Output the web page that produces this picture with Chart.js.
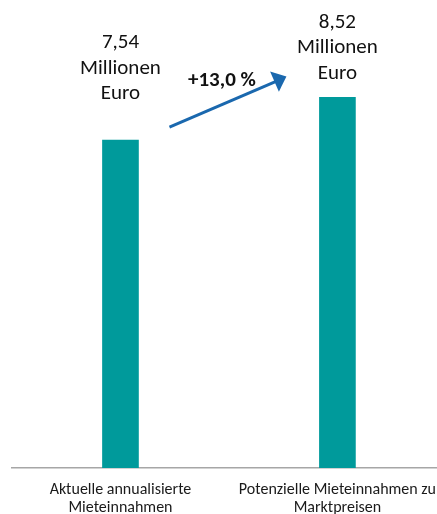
<!DOCTYPE html>
<html>
<head>
<meta charset="utf-8">
<script src="https://cdn.jsdelivr.net/npm/chart.js@4"></script>
<style>
    html, body { margin: 0; padding: 0; background: #fff; overflow: hidden; }
    #wrap { width: 449px; height: 514px; }
</style>
</head>
<body>
<div id="wrap"><canvas id="rentChart" width="449" height="514"></canvas></div>
<script>
// Chart data
const categories = [
    ['Aktuelle annualisierte', 'Mieteinnahmen'],
    ['Potenzielle Mieteinnahmen zu', 'Marktpreisen']
];
const rentValues = [7.54, 8.52];
const valueUnit = ['Millionen', 'Euro'];

const barColor = '#009a9b';
const arrowColor = '#1a68ae';
const fontFamily = 'Carlito, Lato, "Open Sans", sans-serif';

function formatDe(v, digits) {
    return v.toFixed(digits).replace('.', ',');
}

// Value labels above the bars plus the growth arrow
const annotationPlugin = {
    id: 'annotations',
    afterDatasetsDraw(chart) {
        const ctx = chart.ctx;
        const bars = chart.getDatasetMeta(0).data;
        const gaps = [46, 24];
        const lineStep = 25.5;

        ctx.save();
        ctx.fillStyle = '#111';
        ctx.textAlign = 'center';
        ctx.textBaseline = 'middle';
        ctx.font = '21px ' + fontFamily;
        bars.forEach((bar, i) => {
            const lines = [formatDe(rentValues[i], 2)].concat(valueUnit);
            const lastY = bar.y - gaps[i];
            lines.forEach((line, j) => {
                ctx.fillText(line, bar.x, lastY - (lines.length - 1 - j) * lineStep);
            });
        });

        // Arrow from first to second bar
        const x0 = bars[0].x + 49, y0 = bars[0].y - 13;
        const x1 = bars[1].x - 51, y1 = bars[1].y - 21;
        const ang = Math.atan2(y1 - y0, x1 - x0);
        const headLen = 13, headHalf = 11;
        const bx = x1 - headLen * Math.cos(ang), by = y1 - headLen * Math.sin(ang);

        ctx.strokeStyle = arrowColor;
        ctx.fillStyle = arrowColor;
        ctx.lineWidth = 3;
        ctx.beginPath();
        ctx.moveTo(x0, y0);
        ctx.lineTo(bx + 1, by);
        ctx.stroke();

        ctx.beginPath();
        ctx.moveTo(x1, y1);
        ctx.lineTo(bx + headHalf * Math.sin(ang), by - headHalf * Math.cos(ang));
        ctx.lineTo(bx - headHalf * Math.sin(ang), by + headHalf * Math.cos(ang));
        ctx.closePath();
        ctx.fill();

        // Growth percentage
        const growth = (rentValues[1] / rentValues[0] - 1) * 100;
        ctx.fillStyle = '#111';
        ctx.font = 'bold 21px ' + fontFamily;
        ctx.fillText('+' + formatDe(growth, 1) + ' %', (x0 + x1) / 2 - 6, (y0 + y1) / 2 - 21);
        ctx.restore();
    }
};

const ctx = document.getElementById('rentChart').getContext('2d');
const rentChart = new Chart(ctx, {
    type: 'bar',
    data: {
        labels: categories,
        datasets: [{
            data: rentValues,
            backgroundColor: barColor,
            borderWidth: 0,
            barThickness: 36
        }]
    },
    options: {
        responsive: false,
        animation: false,
        devicePixelRatio: 1,
        layout: {
            padding: { top: 33, left: 12, right: 0, bottom: -16 }
        },
        plugins: {
            legend: { display: false },
            tooltip: { enabled: false }
        },
        scales: {
            x: {
                grid: { display: false, drawTicks: false },
                border: { display: true, color: '#a6a6a6', width: 1.5 },
                ticks: {
                    color: '#1a1a1a',
                    padding: 13,
                    maxRotation: 0,
                    autoSkip: false,
                    font: { family: fontFamily, size: 16, lineHeight: 1.125 }
                }
            },
            y: {
                display: false,
                min: 0,
                max: 10
            }
        }
    },
    plugins: [annotationPlugin]
});
</script>
</body>
</html>
